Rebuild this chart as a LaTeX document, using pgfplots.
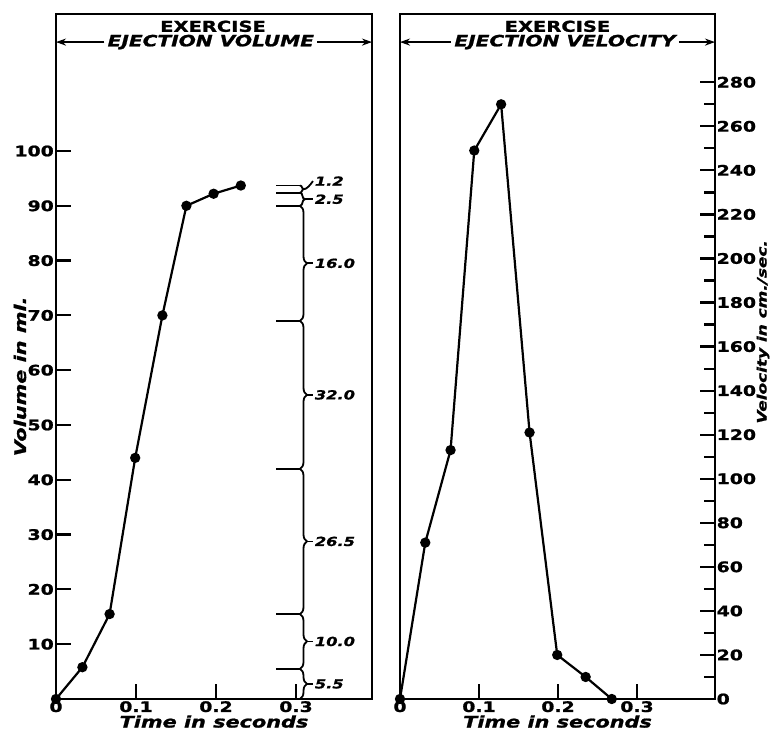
\documentclass[border=0pt]{standalone}
\usepackage{pgfplots}
\pgfplotsset{compat=1.18}
\usepackage{fontspec}
\setmainfont{DejaVu Sans}[FakeStretch=1.3, BoldFeatures={FakeBold=1.2}, BoldItalicFeatures={FakeBold=1.2}]
\usetikzlibrary{decorations.pathreplacing,arrows.meta}
\tikzset{
  ttl/.style={font=\fontsize{15}{15}\selectfont\bfseries, inner sep=2pt},
  ttli/.style={font=\fontsize{15.5}{15.5}\selectfont\bfseries\itshape, inner sep=3pt},
  brl/.style={font=\fontsize{12.5}{12.5}\selectfont\bfseries\itshape, inner sep=1pt, anchor=west},
  ar/.style={line width=1.8pt,-{Stealth[length=10pt,width=7pt]}},
  bl/.style={line width=1.8pt},
}
\pgfplotsset{
  panel/.style={
    scale only axis, width=316pt, height=685pt,
    axis line style={line width=2.4pt},
    tick style={line width=2.2pt, black},
    major tick length=15pt, minor tick length=11pt,
    tick align=inside, clip=false,
    xmin=0, ymin=0,
    xtick={0,0.1,0.2,0.3}, xticklabels={0,0.1,0.2,0.3},
    xtick pos=bottom,
    ticklabel style={font=\fontsize{14.5}{14.5}\selectfont\bfseries},
    xticklabel style={inner sep=2pt},
    xlabel={\fontsize{16}{16}\selectfont\bfseries\itshape Time in seconds},
    xlabel style={inner sep=0pt, yshift=-1pt},
  },
  dat/.style={line width=2.2pt, black, mark=*, mark size=4pt, mark options={solid, fill=black}},
}
\begin{document}
\begin{tikzpicture}
\useasboundingbox (0,0) rectangle (772pt,734pt);
% ---------------- left panel ----------------
\begin{axis}[panel, at={(56pt,35pt)}, anchor=south west,
  xmax=0.395, ymax=125,
  ytick={10,20,30,40,50,60,70,80,90,100},
  yticklabels={10,20,30,40,50,60,70,80,90,100},
  ytick pos=left, yticklabel style={inner sep=2pt}]
\addplot[dat] coordinates {(0,0) (0.033,5.8) (0.067,15.5) (0.099,44) (0.133,70) (0.163,90) (0.197,92.2) (0.231,93.7)};
\coordinate (L0) at (rel axis cs:0,0);
\coordinate (L1) at (rel axis cs:1,0);
\node[ttl] at (rel axis cs:0.497,0.982) {EXERCISE};
\node[ttli] (tl) at (rel axis cs:0.49,0.959) {EJECTION VOLUME};
\draw[ar] (tl.west) -- (tl.west -| L0);
\draw[ar] (tl.east) -- (tl.east -| L1);
\node[rotate=90, font=\fontsize{16}{16}\selectfont\bfseries\itshape] at ([xshift=-36pt]rel axis cs:0,0.471) {Volume in ml.};
% increment brackets
\pgfplotsinvokeforeach{93.7,92.4,90,69,42,15.5,5.5}{
  \draw[bl] (axis cs:0.275,#1) -- (axis cs:0.305,#1);
}
\draw[bl,decorate,decoration={brace,amplitude=4pt}] (axis cs:0.305,93.7) -- (axis cs:0.305,92.4);
\draw[bl,decorate,decoration={brace,amplitude=5pt}] (axis cs:0.305,92.4) -- (axis cs:0.305,90);
\draw[bl,decorate,decoration={brace,amplitude=7pt}] (axis cs:0.305,90) -- (axis cs:0.305,69);
\draw[bl,decorate,decoration={brace,amplitude=7pt}] (axis cs:0.305,69) -- (axis cs:0.305,42);
\draw[bl,decorate,decoration={brace,amplitude=7pt}] (axis cs:0.305,42) -- (axis cs:0.305,15.5);
\draw[bl,decorate,decoration={brace,amplitude=7pt}] (axis cs:0.305,15.5) -- (axis cs:0.305,5.5);
\draw[bl,decorate,decoration={brace,amplitude=7pt}] (axis cs:0.305,5.5) -- (axis cs:0.305,0);
\coordinate (b1) at (axis cs:0.305,93.05);
\coordinate (b2) at (axis cs:0.305,91.2);
\coordinate (b3) at (axis cs:0.305,79.5);
\coordinate (b4) at (axis cs:0.305,55.5);
\coordinate (b5) at (axis cs:0.305,28.75);
\coordinate (b6) at (axis cs:0.305,10.5);
\coordinate (b7) at (axis cs:0.305,2.75);
\draw[bl] ([xshift=4pt]b1) .. controls +(3pt,0) and +(-3pt,-4pt) .. ++(9pt,8pt) node[brl]{1.2};
\draw[bl] ([xshift=5pt]b2) -- ++(8pt,0) node[brl]{2.5};
\draw[bl] ([xshift=7pt]b3) -- ++(6pt,0) node[brl]{16.0};
\draw[bl] ([xshift=7pt]b4) -- ++(6pt,0) node[brl]{32.0};
\draw[bl] ([xshift=7pt]b5) -- ++(6pt,0) node[brl]{26.5};
\draw[bl] ([xshift=7pt]b6) -- ++(6pt,0) node[brl]{10.0};
\draw[bl] ([xshift=7pt]b7) -- ++(6pt,0) node[brl]{5.5};
\end{axis}
% ---------------- right panel ----------------
\begin{axis}[panel, at={(400pt,35pt)}, anchor=south west,
  width=315pt, xmax=0.3987, ymax=311,
  ytick={0,20,40,60,80,100,120,140,160,180,200,220,240,260,280},
  yticklabels={0,20,40,60,80,100,120,140,160,180,200,220,240,260,280},
  minor ytick={10,30,50,70,90,110,130,150,170,190,210,230,250,270},
  ytick pos=right, yticklabel pos=right,
  yticklabel style={inner sep=1.5pt}]
\addplot[dat] coordinates {(0,0) (0.032,71) (0.064,113) (0.094,249) (0.128,270) (0.164,121) (0.199,20) (0.235,10) (0.268,0)};
\coordinate (R0) at (rel axis cs:0,0);
\coordinate (R1) at (rel axis cs:1,0);
\node[ttl] at (rel axis cs:0.5,0.982) {EXERCISE};
\node[ttli] (tr) at (rel axis cs:0.524,0.959) {EJECTION VELOCITY};
\draw[ar] (tr.west) -- (tr.west -| R0);
\draw[ar] (tr.east) -- (tr.east -| R1);
\node[rotate=90, font=\fontsize{13}{13}\selectfont\bfseries\itshape] at ([xshift=48pt]rel axis cs:1,0.536) {Velocity in cm./sec.};
\end{axis}
\end{tikzpicture}
\end{document}
